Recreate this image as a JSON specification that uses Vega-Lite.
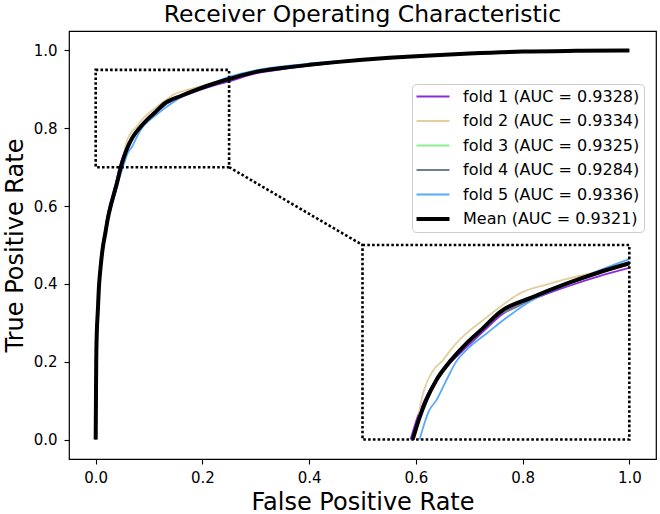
{
  "$schema": "https://vega.github.io/schema/vega-lite/v6.json",
  "width": 587,
  "height": 428,
  "autosize": {"type": "none"},
  "padding": {"left": 69, "top": 31, "right": 4, "bottom": 55},
  "background": "white",
  "title": {"text": "Receiver Operating Characteristic", "font": "DejaVu Sans", "fontSize": 23.5, "fontWeight": "normal", "color": "black", "anchor": "middle", "baseline": "alphabetic", "offset": 10, "dy": 24},
  "config": {
    "view": {"stroke": "black", "strokeWidth": 1.2},
    "axis": {"grid": false, "domain": false, "labelFont": "DejaVu Sans", "labelFontSize": 15, "labelColor": "black", "tickColor": "black", "tickSize": 5, "tickWidth": 1.1, "titleFont": "DejaVu Sans", "titleFontSize": 24, "titleFontWeight": "normal", "titleColor": "black"},
    "legend": {"labelFont": "DejaVu Sans", "labelFontSize": 16, "labelColor": "black", "symbolType": "M-2,0H2", "symbolSize": 272, "symbolOffset": 9, "labelOffset": 22, "padding": 4, "rowPadding": 7.5, "clipHeight": 17, "columns": 1, "strokeColor": "#cccccc", "fillColor": "rgba(255,255,255,0.8)", "cornerRadius": 4, "labelLimit": 400}
  },
  "datasets": {
    "roc": [
      {"series": "fold 1 (AUC = 0.9328)", "fpr": 0, "tpr": 0},
      {"series": "fold 1 (AUC = 0.9328)", "fpr": 0.0005, "tpr": 0.11},
      {"series": "fold 1 (AUC = 0.9328)", "fpr": 0.001, "tpr": 0.21},
      {"series": "fold 1 (AUC = 0.9328)", "fpr": 0.002, "tpr": 0.28},
      {"series": "fold 1 (AUC = 0.9328)", "fpr": 0.004, "tpr": 0.34},
      {"series": "fold 1 (AUC = 0.9328)", "fpr": 0.006, "tpr": 0.40},
      {"series": "fold 1 (AUC = 0.9328)", "fpr": 0.009, "tpr": 0.45},
      {"series": "fold 1 (AUC = 0.9328)", "fpr": 0.013, "tpr": 0.50},
      {"series": "fold 1 (AUC = 0.9328)", "fpr": 0.018, "tpr": 0.54},
      {"series": "fold 1 (AUC = 0.9328)", "fpr": 0.022, "tpr": 0.575},
      {"series": "fold 1 (AUC = 0.9328)", "fpr": 0.027, "tpr": 0.605},
      {"series": "fold 1 (AUC = 0.9328)", "fpr": 0.033, "tpr": 0.635},
      {"series": "fold 1 (AUC = 0.9328)", "fpr": 0.039, "tpr": 0.665},
      {"series": "fold 1 (AUC = 0.9328)", "fpr": 0.045, "tpr": 0.700},
      {"series": "fold 1 (AUC = 0.9328)", "fpr": 0.0515, "tpr": 0.7285},
      {"series": "fold 1 (AUC = 0.9328)", "fpr": 0.058, "tpr": 0.750},
      {"series": "fold 1 (AUC = 0.9328)", "fpr": 0.068, "tpr": 0.775},
      {"series": "fold 1 (AUC = 0.9328)", "fpr": 0.0815, "tpr": 0.7975},
      {"series": "fold 1 (AUC = 0.9328)", "fpr": 0.0985, "tpr": 0.820},
      {"series": "fold 1 (AUC = 0.9328)", "fpr": 0.114, "tpr": 0.840},
      {"series": "fold 1 (AUC = 0.9328)", "fpr": 0.130, "tpr": 0.860},
      {"series": "fold 1 (AUC = 0.9328)", "fpr": 0.1595, "tpr": 0.880},
      {"series": "fold 1 (AUC = 0.9328)", "fpr": 0.1905, "tpr": 0.896},
      {"series": "fold 1 (AUC = 0.9328)", "fpr": 0.222, "tpr": 0.910},
      {"series": "fold 1 (AUC = 0.9328)", "fpr": 0.25, "tpr": 0.9205},
      {"series": "fold 1 (AUC = 0.9328)", "fpr": 0.3, "tpr": 0.941},
      {"series": "fold 1 (AUC = 0.9328)", "fpr": 0.35, "tpr": 0.952},
      {"series": "fold 1 (AUC = 0.9328)", "fpr": 0.4, "tpr": 0.961},
      {"series": "fold 1 (AUC = 0.9328)", "fpr": 0.45, "tpr": 0.969},
      {"series": "fold 1 (AUC = 0.9328)", "fpr": 0.5, "tpr": 0.975},
      {"series": "fold 1 (AUC = 0.9328)", "fpr": 0.55, "tpr": 0.980},
      {"series": "fold 1 (AUC = 0.9328)", "fpr": 0.6, "tpr": 0.985},
      {"series": "fold 1 (AUC = 0.9328)", "fpr": 0.7, "tpr": 0.992},
      {"series": "fold 1 (AUC = 0.9328)", "fpr": 0.8, "tpr": 0.996},
      {"series": "fold 1 (AUC = 0.9328)", "fpr": 0.9, "tpr": 0.999},
      {"series": "fold 1 (AUC = 0.9328)", "fpr": 1.0, "tpr": 1.0},

      {"series": "fold 2 (AUC = 0.9334)", "fpr": 0, "tpr": 0},
      {"series": "fold 2 (AUC = 0.9334)", "fpr": 0.0005, "tpr": 0.1},
      {"series": "fold 2 (AUC = 0.9334)", "fpr": 0.001, "tpr": 0.2},
      {"series": "fold 2 (AUC = 0.9334)", "fpr": 0.002, "tpr": 0.27},
      {"series": "fold 2 (AUC = 0.9334)", "fpr": 0.004, "tpr": 0.33},
      {"series": "fold 2 (AUC = 0.9334)", "fpr": 0.006, "tpr": 0.39},
      {"series": "fold 2 (AUC = 0.9334)", "fpr": 0.009, "tpr": 0.44},
      {"series": "fold 2 (AUC = 0.9334)", "fpr": 0.013, "tpr": 0.49},
      {"series": "fold 2 (AUC = 0.9334)", "fpr": 0.018, "tpr": 0.535},
      {"series": "fold 2 (AUC = 0.9334)", "fpr": 0.023, "tpr": 0.575},
      {"series": "fold 2 (AUC = 0.9334)", "fpr": 0.028, "tpr": 0.605},
      {"series": "fold 2 (AUC = 0.9334)", "fpr": 0.034, "tpr": 0.635},
      {"series": "fold 2 (AUC = 0.9334)", "fpr": 0.041, "tpr": 0.668},
      {"series": "fold 2 (AUC = 0.9334)", "fpr": 0.0475, "tpr": 0.700},
      {"series": "fold 2 (AUC = 0.9334)", "fpr": 0.052, "tpr": 0.720},
      {"series": "fold 2 (AUC = 0.9334)", "fpr": 0.054, "tpr": 0.7425},
      {"series": "fold 2 (AUC = 0.9334)", "fpr": 0.056, "tpr": 0.755},
      {"series": "fold 2 (AUC = 0.9334)", "fpr": 0.058, "tpr": 0.765},
      {"series": "fold 2 (AUC = 0.9334)", "fpr": 0.066, "tpr": 0.7885},
      {"series": "fold 2 (AUC = 0.9334)", "fpr": 0.075, "tpr": 0.8015},
      {"series": "fold 2 (AUC = 0.9334)", "fpr": 0.0845, "tpr": 0.8185},
      {"series": "fold 2 (AUC = 0.9334)", "fpr": 0.097, "tpr": 0.836},
      {"series": "fold 2 (AUC = 0.9334)", "fpr": 0.1125, "tpr": 0.853},
      {"series": "fold 2 (AUC = 0.9334)", "fpr": 0.1285, "tpr": 0.870},
      {"series": "fold 2 (AUC = 0.9334)", "fpr": 0.147, "tpr": 0.8875},
      {"series": "fold 2 (AUC = 0.9334)", "fpr": 0.175, "tpr": 0.900},
      {"series": "fold 2 (AUC = 0.9334)", "fpr": 0.1905, "tpr": 0.906},
      {"series": "fold 2 (AUC = 0.9334)", "fpr": 0.222, "tpr": 0.9165},
      {"series": "fold 2 (AUC = 0.9334)", "fpr": 0.25, "tpr": 0.928},
      {"series": "fold 2 (AUC = 0.9334)", "fpr": 0.3, "tpr": 0.945},
      {"series": "fold 2 (AUC = 0.9334)", "fpr": 0.35, "tpr": 0.955},
      {"series": "fold 2 (AUC = 0.9334)", "fpr": 0.4, "tpr": 0.963},
      {"series": "fold 2 (AUC = 0.9334)", "fpr": 0.45, "tpr": 0.970},
      {"series": "fold 2 (AUC = 0.9334)", "fpr": 0.5, "tpr": 0.976},
      {"series": "fold 2 (AUC = 0.9334)", "fpr": 0.55, "tpr": 0.981},
      {"series": "fold 2 (AUC = 0.9334)", "fpr": 0.6, "tpr": 0.985},
      {"series": "fold 2 (AUC = 0.9334)", "fpr": 0.7, "tpr": 0.992},
      {"series": "fold 2 (AUC = 0.9334)", "fpr": 0.8, "tpr": 0.997},
      {"series": "fold 2 (AUC = 0.9334)", "fpr": 0.9, "tpr": 0.999},
      {"series": "fold 2 (AUC = 0.9334)", "fpr": 1.0, "tpr": 1.0},

      {"series": "fold 3 (AUC = 0.9325)", "fpr": 0, "tpr": 0},
      {"series": "fold 3 (AUC = 0.9325)", "fpr": 0.0005, "tpr": 0.1},
      {"series": "fold 3 (AUC = 0.9325)", "fpr": 0.001, "tpr": 0.2},
      {"series": "fold 3 (AUC = 0.9325)", "fpr": 0.002, "tpr": 0.27},
      {"series": "fold 3 (AUC = 0.9325)", "fpr": 0.004, "tpr": 0.33},
      {"series": "fold 3 (AUC = 0.9325)", "fpr": 0.006, "tpr": 0.39},
      {"series": "fold 3 (AUC = 0.9325)", "fpr": 0.009, "tpr": 0.44},
      {"series": "fold 3 (AUC = 0.9325)", "fpr": 0.013, "tpr": 0.49},
      {"series": "fold 3 (AUC = 0.9325)", "fpr": 0.018, "tpr": 0.53},
      {"series": "fold 3 (AUC = 0.9325)", "fpr": 0.023, "tpr": 0.57},
      {"series": "fold 3 (AUC = 0.9325)", "fpr": 0.028, "tpr": 0.60},
      {"series": "fold 3 (AUC = 0.9325)", "fpr": 0.034, "tpr": 0.63},
      {"series": "fold 3 (AUC = 0.9325)", "fpr": 0.041, "tpr": 0.665},
      {"series": "fold 3 (AUC = 0.9325)", "fpr": 0.048, "tpr": 0.700},
      {"series": "fold 3 (AUC = 0.9325)", "fpr": 0.054, "tpr": 0.729},
      {"series": "fold 3 (AUC = 0.9325)", "fpr": 0.060, "tpr": 0.751},
      {"series": "fold 3 (AUC = 0.9325)", "fpr": 0.0695, "tpr": 0.7775},
      {"series": "fold 3 (AUC = 0.9325)", "fpr": 0.082, "tpr": 0.801},
      {"series": "fold 3 (AUC = 0.9325)", "fpr": 0.0975, "tpr": 0.8245},
      {"series": "fold 3 (AUC = 0.9325)", "fpr": 0.113, "tpr": 0.844},
      {"series": "fold 3 (AUC = 0.9325)", "fpr": 0.1285, "tpr": 0.8645},
      {"series": "fold 3 (AUC = 0.9325)", "fpr": 0.1595, "tpr": 0.884},
      {"series": "fold 3 (AUC = 0.9325)", "fpr": 0.1905, "tpr": 0.9005},
      {"series": "fold 3 (AUC = 0.9325)", "fpr": 0.222, "tpr": 0.915},
      {"series": "fold 3 (AUC = 0.9325)", "fpr": 0.25, "tpr": 0.926},
      {"series": "fold 3 (AUC = 0.9325)", "fpr": 0.3, "tpr": 0.945},
      {"series": "fold 3 (AUC = 0.9325)", "fpr": 0.35, "tpr": 0.955},
      {"series": "fold 3 (AUC = 0.9325)", "fpr": 0.4, "tpr": 0.963},
      {"series": "fold 3 (AUC = 0.9325)", "fpr": 0.45, "tpr": 0.970},
      {"series": "fold 3 (AUC = 0.9325)", "fpr": 0.5, "tpr": 0.976},
      {"series": "fold 3 (AUC = 0.9325)", "fpr": 0.55, "tpr": 0.981},
      {"series": "fold 3 (AUC = 0.9325)", "fpr": 0.6, "tpr": 0.985},
      {"series": "fold 3 (AUC = 0.9325)", "fpr": 0.7, "tpr": 0.992},
      {"series": "fold 3 (AUC = 0.9325)", "fpr": 0.8, "tpr": 0.997},
      {"series": "fold 3 (AUC = 0.9325)", "fpr": 0.9, "tpr": 0.999},
      {"series": "fold 3 (AUC = 0.9325)", "fpr": 1.0, "tpr": 1.0},

      {"series": "fold 4 (AUC = 0.9284)", "fpr": 0, "tpr": 0},
      {"series": "fold 4 (AUC = 0.9284)", "fpr": 0.0005, "tpr": 0.1},
      {"series": "fold 4 (AUC = 0.9284)", "fpr": 0.001, "tpr": 0.2},
      {"series": "fold 4 (AUC = 0.9284)", "fpr": 0.002, "tpr": 0.27},
      {"series": "fold 4 (AUC = 0.9284)", "fpr": 0.004, "tpr": 0.33},
      {"series": "fold 4 (AUC = 0.9284)", "fpr": 0.006, "tpr": 0.39},
      {"series": "fold 4 (AUC = 0.9284)", "fpr": 0.009, "tpr": 0.44},
      {"series": "fold 4 (AUC = 0.9284)", "fpr": 0.013, "tpr": 0.49},
      {"series": "fold 4 (AUC = 0.9284)", "fpr": 0.018, "tpr": 0.53},
      {"series": "fold 4 (AUC = 0.9284)", "fpr": 0.023, "tpr": 0.57},
      {"series": "fold 4 (AUC = 0.9284)", "fpr": 0.028, "tpr": 0.60},
      {"series": "fold 4 (AUC = 0.9284)", "fpr": 0.034, "tpr": 0.63},
      {"series": "fold 4 (AUC = 0.9284)", "fpr": 0.040, "tpr": 0.66},
      {"series": "fold 4 (AUC = 0.9284)", "fpr": 0.047, "tpr": 0.700},
      {"series": "fold 4 (AUC = 0.9284)", "fpr": 0.053, "tpr": 0.7285},
      {"series": "fold 4 (AUC = 0.9284)", "fpr": 0.059, "tpr": 0.750},
      {"series": "fold 4 (AUC = 0.9284)", "fpr": 0.0685, "tpr": 0.776},
      {"series": "fold 4 (AUC = 0.9284)", "fpr": 0.081, "tpr": 0.800},
      {"series": "fold 4 (AUC = 0.9284)", "fpr": 0.0965, "tpr": 0.8235},
      {"series": "fold 4 (AUC = 0.9284)", "fpr": 0.112, "tpr": 0.8435},
      {"series": "fold 4 (AUC = 0.9284)", "fpr": 0.1285, "tpr": 0.861},
      {"series": "fold 4 (AUC = 0.9284)", "fpr": 0.14, "tpr": 0.8675},
      {"series": "fold 4 (AUC = 0.9284)", "fpr": 0.1595, "tpr": 0.8815},
      {"series": "fold 4 (AUC = 0.9284)", "fpr": 0.1905, "tpr": 0.899},
      {"series": "fold 4 (AUC = 0.9284)", "fpr": 0.222, "tpr": 0.914},
      {"series": "fold 4 (AUC = 0.9284)", "fpr": 0.25, "tpr": 0.925},
      {"series": "fold 4 (AUC = 0.9284)", "fpr": 0.3, "tpr": 0.944},
      {"series": "fold 4 (AUC = 0.9284)", "fpr": 0.35, "tpr": 0.954},
      {"series": "fold 4 (AUC = 0.9284)", "fpr": 0.4, "tpr": 0.962},
      {"series": "fold 4 (AUC = 0.9284)", "fpr": 0.45, "tpr": 0.969},
      {"series": "fold 4 (AUC = 0.9284)", "fpr": 0.5, "tpr": 0.975},
      {"series": "fold 4 (AUC = 0.9284)", "fpr": 0.55, "tpr": 0.980},
      {"series": "fold 4 (AUC = 0.9284)", "fpr": 0.6, "tpr": 0.984},
      {"series": "fold 4 (AUC = 0.9284)", "fpr": 0.7, "tpr": 0.991},
      {"series": "fold 4 (AUC = 0.9284)", "fpr": 0.8, "tpr": 0.996},
      {"series": "fold 4 (AUC = 0.9284)", "fpr": 0.9, "tpr": 0.999},
      {"series": "fold 4 (AUC = 0.9284)", "fpr": 1.0, "tpr": 1.0},

      {"series": "fold 5 (AUC = 0.9336)", "fpr": 0, "tpr": 0},
      {"series": "fold 5 (AUC = 0.9336)", "fpr": 0.0006, "tpr": 0.1},
      {"series": "fold 5 (AUC = 0.9336)", "fpr": 0.0012, "tpr": 0.2},
      {"series": "fold 5 (AUC = 0.9336)", "fpr": 0.0025, "tpr": 0.27},
      {"series": "fold 5 (AUC = 0.9336)", "fpr": 0.0045, "tpr": 0.33},
      {"series": "fold 5 (AUC = 0.9336)", "fpr": 0.0065, "tpr": 0.39},
      {"series": "fold 5 (AUC = 0.9336)", "fpr": 0.0095, "tpr": 0.44},
      {"series": "fold 5 (AUC = 0.9336)", "fpr": 0.014, "tpr": 0.49},
      {"series": "fold 5 (AUC = 0.9336)", "fpr": 0.019, "tpr": 0.53},
      {"series": "fold 5 (AUC = 0.9336)", "fpr": 0.024, "tpr": 0.57},
      {"series": "fold 5 (AUC = 0.9336)", "fpr": 0.030, "tpr": 0.60},
      {"series": "fold 5 (AUC = 0.9336)", "fpr": 0.036, "tpr": 0.63},
      {"series": "fold 5 (AUC = 0.9336)", "fpr": 0.043, "tpr": 0.665},
      {"series": "fold 5 (AUC = 0.9336)", "fpr": 0.051, "tpr": 0.700},
      {"series": "fold 5 (AUC = 0.9336)", "fpr": 0.0605, "tpr": 0.7375},
      {"series": "fold 5 (AUC = 0.9336)", "fpr": 0.067, "tpr": 0.750},
      {"series": "fold 5 (AUC = 0.9336)", "fpr": 0.0765, "tpr": 0.776},
      {"series": "fold 5 (AUC = 0.9336)", "fpr": 0.086, "tpr": 0.7995},
      {"series": "fold 5 (AUC = 0.9336)", "fpr": 0.099, "tpr": 0.8185},
      {"series": "fold 5 (AUC = 0.9336)", "fpr": 0.115, "tpr": 0.836},
      {"series": "fold 5 (AUC = 0.9336)", "fpr": 0.131, "tpr": 0.853},
      {"series": "fold 5 (AUC = 0.9336)", "fpr": 0.16, "tpr": 0.880},
      {"series": "fold 5 (AUC = 0.9336)", "fpr": 0.1905, "tpr": 0.899},
      {"series": "fold 5 (AUC = 0.9336)", "fpr": 0.222, "tpr": 0.9175},
      {"series": "fold 5 (AUC = 0.9336)", "fpr": 0.25, "tpr": 0.932},
      {"series": "fold 5 (AUC = 0.9336)", "fpr": 0.3, "tpr": 0.949},
      {"series": "fold 5 (AUC = 0.9336)", "fpr": 0.35, "tpr": 0.959},
      {"series": "fold 5 (AUC = 0.9336)", "fpr": 0.4, "tpr": 0.966},
      {"series": "fold 5 (AUC = 0.9336)", "fpr": 0.45, "tpr": 0.972},
      {"series": "fold 5 (AUC = 0.9336)", "fpr": 0.5, "tpr": 0.977},
      {"series": "fold 5 (AUC = 0.9336)", "fpr": 0.55, "tpr": 0.981},
      {"series": "fold 5 (AUC = 0.9336)", "fpr": 0.6, "tpr": 0.985},
      {"series": "fold 5 (AUC = 0.9336)", "fpr": 0.7, "tpr": 0.992},
      {"series": "fold 5 (AUC = 0.9336)", "fpr": 0.8, "tpr": 0.997},
      {"series": "fold 5 (AUC = 0.9336)", "fpr": 0.9, "tpr": 0.999},
      {"series": "fold 5 (AUC = 0.9336)", "fpr": 1.0, "tpr": 1.0},

      {"series": "Mean (AUC = 0.9321)", "fpr": 0, "tpr": 0},
      {"series": "Mean (AUC = 0.9321)", "fpr": 0.0005, "tpr": 0.1},
      {"series": "Mean (AUC = 0.9321)", "fpr": 0.001, "tpr": 0.2},
      {"series": "Mean (AUC = 0.9321)", "fpr": 0.002, "tpr": 0.27},
      {"series": "Mean (AUC = 0.9321)", "fpr": 0.004, "tpr": 0.33},
      {"series": "Mean (AUC = 0.9321)", "fpr": 0.006, "tpr": 0.39},
      {"series": "Mean (AUC = 0.9321)", "fpr": 0.009, "tpr": 0.44},
      {"series": "Mean (AUC = 0.9321)", "fpr": 0.013, "tpr": 0.49},
      {"series": "Mean (AUC = 0.9321)", "fpr": 0.018, "tpr": 0.53},
      {"series": "Mean (AUC = 0.9321)", "fpr": 0.023, "tpr": 0.57},
      {"series": "Mean (AUC = 0.9321)", "fpr": 0.028, "tpr": 0.60},
      {"series": "Mean (AUC = 0.9321)", "fpr": 0.034, "tpr": 0.63},
      {"series": "Mean (AUC = 0.9321)", "fpr": 0.040, "tpr": 0.66},
      {"series": "Mean (AUC = 0.9321)", "fpr": 0.047, "tpr": 0.700},
      {"series": "Mean (AUC = 0.9321)", "fpr": 0.0535, "tpr": 0.7285},
      {"series": "Mean (AUC = 0.9321)", "fpr": 0.0595, "tpr": 0.750},
      {"series": "Mean (AUC = 0.9321)", "fpr": 0.069, "tpr": 0.776},
      {"series": "Mean (AUC = 0.9321)", "fpr": 0.0815, "tpr": 0.7995},
      {"series": "Mean (AUC = 0.9321)", "fpr": 0.097, "tpr": 0.823},
      {"series": "Mean (AUC = 0.9321)", "fpr": 0.1125, "tpr": 0.8425},
      {"series": "Mean (AUC = 0.9321)", "fpr": 0.1285, "tpr": 0.8635},
      {"series": "Mean (AUC = 0.9321)", "fpr": 0.1595, "tpr": 0.883},
      {"series": "Mean (AUC = 0.9321)", "fpr": 0.1905, "tpr": 0.900},
      {"series": "Mean (AUC = 0.9321)", "fpr": 0.222, "tpr": 0.915},
      {"series": "Mean (AUC = 0.9321)", "fpr": 0.25, "tpr": 0.9265},
      {"series": "Mean (AUC = 0.9321)", "fpr": 0.3, "tpr": 0.945},
      {"series": "Mean (AUC = 0.9321)", "fpr": 0.35, "tpr": 0.955},
      {"series": "Mean (AUC = 0.9321)", "fpr": 0.4, "tpr": 0.963},
      {"series": "Mean (AUC = 0.9321)", "fpr": 0.45, "tpr": 0.970},
      {"series": "Mean (AUC = 0.9321)", "fpr": 0.5, "tpr": 0.976},
      {"series": "Mean (AUC = 0.9321)", "fpr": 0.55, "tpr": 0.981},
      {"series": "Mean (AUC = 0.9321)", "fpr": 0.6, "tpr": 0.985},
      {"series": "Mean (AUC = 0.9321)", "fpr": 0.7, "tpr": 0.992},
      {"series": "Mean (AUC = 0.9321)", "fpr": 0.8, "tpr": 0.997},
      {"series": "Mean (AUC = 0.9321)", "fpr": 0.9, "tpr": 0.999},
      {"series": "Mean (AUC = 0.9321)", "fpr": 1.0, "tpr": 1.0}
    ],
    "inset": [
      {"series": "fold 1 (AUC = 0.9328)", "fpr": 0.590, "tpr": 0},
      {"series": "fold 1 (AUC = 0.9328)", "fpr": 0.603, "tpr": 0.057},
      {"series": "fold 1 (AUC = 0.9328)", "fpr": 0.616, "tpr": 0.100},
      {"series": "fold 1 (AUC = 0.9328)", "fpr": 0.636, "tpr": 0.150},
      {"series": "fold 1 (AUC = 0.9328)", "fpr": 0.663, "tpr": 0.195},
      {"series": "fold 1 (AUC = 0.9328)", "fpr": 0.697, "tpr": 0.240},
      {"series": "fold 1 (AUC = 0.9328)", "fpr": 0.728, "tpr": 0.280},
      {"series": "fold 1 (AUC = 0.9328)", "fpr": 0.760, "tpr": 0.320},
      {"series": "fold 1 (AUC = 0.9328)", "fpr": 0.819, "tpr": 0.360},
      {"series": "fold 1 (AUC = 0.9328)", "fpr": 0.881, "tpr": 0.392},
      {"series": "fold 1 (AUC = 0.9328)", "fpr": 0.944, "tpr": 0.420},
      {"series": "fold 1 (AUC = 0.9328)", "fpr": 1.0, "tpr": 0.441},

      {"series": "fold 2 (AUC = 0.9334)", "fpr": 0.595, "tpr": 0},
      {"series": "fold 2 (AUC = 0.9334)", "fpr": 0.604, "tpr": 0.040},
      {"series": "fold 2 (AUC = 0.9334)", "fpr": 0.608, "tpr": 0.085},
      {"series": "fold 2 (AUC = 0.9334)", "fpr": 0.612, "tpr": 0.110},
      {"series": "fold 2 (AUC = 0.9334)", "fpr": 0.616, "tpr": 0.130},
      {"series": "fold 2 (AUC = 0.9334)", "fpr": 0.632, "tpr": 0.177},
      {"series": "fold 2 (AUC = 0.9334)", "fpr": 0.650, "tpr": 0.203},
      {"series": "fold 2 (AUC = 0.9334)", "fpr": 0.669, "tpr": 0.237},
      {"series": "fold 2 (AUC = 0.9334)", "fpr": 0.694, "tpr": 0.272},
      {"series": "fold 2 (AUC = 0.9334)", "fpr": 0.725, "tpr": 0.306},
      {"series": "fold 2 (AUC = 0.9334)", "fpr": 0.757, "tpr": 0.340},
      {"series": "fold 2 (AUC = 0.9334)", "fpr": 0.794, "tpr": 0.375},
      {"series": "fold 2 (AUC = 0.9334)", "fpr": 0.850, "tpr": 0.400},
      {"series": "fold 2 (AUC = 0.9334)", "fpr": 0.881, "tpr": 0.412},
      {"series": "fold 2 (AUC = 0.9334)", "fpr": 0.944, "tpr": 0.433},
      {"series": "fold 2 (AUC = 0.9334)", "fpr": 1.0, "tpr": 0.456},

      {"series": "fold 3 (AUC = 0.9325)", "fpr": 0.596, "tpr": 0},
      {"series": "fold 3 (AUC = 0.9325)", "fpr": 0.608, "tpr": 0.058},
      {"series": "fold 3 (AUC = 0.9325)", "fpr": 0.620, "tpr": 0.102},
      {"series": "fold 3 (AUC = 0.9325)", "fpr": 0.639, "tpr": 0.155},
      {"series": "fold 3 (AUC = 0.9325)", "fpr": 0.664, "tpr": 0.202},
      {"series": "fold 3 (AUC = 0.9325)", "fpr": 0.695, "tpr": 0.249},
      {"series": "fold 3 (AUC = 0.9325)", "fpr": 0.726, "tpr": 0.288},
      {"series": "fold 3 (AUC = 0.9325)", "fpr": 0.757, "tpr": 0.329},
      {"series": "fold 3 (AUC = 0.9325)", "fpr": 0.819, "tpr": 0.368},
      {"series": "fold 3 (AUC = 0.9325)", "fpr": 0.881, "tpr": 0.401},
      {"series": "fold 3 (AUC = 0.9325)", "fpr": 0.944, "tpr": 0.430},
      {"series": "fold 3 (AUC = 0.9325)", "fpr": 1.0, "tpr": 0.452},

      {"series": "fold 4 (AUC = 0.9284)", "fpr": 0.594, "tpr": 0},
      {"series": "fold 4 (AUC = 0.9284)", "fpr": 0.606, "tpr": 0.057},
      {"series": "fold 4 (AUC = 0.9284)", "fpr": 0.618, "tpr": 0.100},
      {"series": "fold 4 (AUC = 0.9284)", "fpr": 0.637, "tpr": 0.152},
      {"series": "fold 4 (AUC = 0.9284)", "fpr": 0.662, "tpr": 0.200},
      {"series": "fold 4 (AUC = 0.9284)", "fpr": 0.693, "tpr": 0.247},
      {"series": "fold 4 (AUC = 0.9284)", "fpr": 0.724, "tpr": 0.287},
      {"series": "fold 4 (AUC = 0.9284)", "fpr": 0.757, "tpr": 0.322},
      {"series": "fold 4 (AUC = 0.9284)", "fpr": 0.780, "tpr": 0.335},
      {"series": "fold 4 (AUC = 0.9284)", "fpr": 0.819, "tpr": 0.363},
      {"series": "fold 4 (AUC = 0.9284)", "fpr": 0.881, "tpr": 0.398},
      {"series": "fold 4 (AUC = 0.9284)", "fpr": 0.944, "tpr": 0.428},
      {"series": "fold 4 (AUC = 0.9284)", "fpr": 1.0, "tpr": 0.450},

      {"series": "fold 5 (AUC = 0.9336)", "fpr": 0.607, "tpr": 0},
      {"series": "fold 5 (AUC = 0.9336)", "fpr": 0.625, "tpr": 0.075},
      {"series": "fold 5 (AUC = 0.9336)", "fpr": 0.638, "tpr": 0.100},
      {"series": "fold 5 (AUC = 0.9336)", "fpr": 0.657, "tpr": 0.152},
      {"series": "fold 5 (AUC = 0.9336)", "fpr": 0.675, "tpr": 0.199},
      {"series": "fold 5 (AUC = 0.9336)", "fpr": 0.700, "tpr": 0.237},
      {"series": "fold 5 (AUC = 0.9336)", "fpr": 0.732, "tpr": 0.272},
      {"series": "fold 5 (AUC = 0.9336)", "fpr": 0.763, "tpr": 0.306},
      {"series": "fold 5 (AUC = 0.9336)", "fpr": 0.820, "tpr": 0.360},
      {"series": "fold 5 (AUC = 0.9336)", "fpr": 0.881, "tpr": 0.398},
      {"series": "fold 5 (AUC = 0.9336)", "fpr": 0.944, "tpr": 0.435},
      {"series": "fold 5 (AUC = 0.9336)", "fpr": 1.0, "tpr": 0.464},

      {"series": "Mean (AUC = 0.9321)", "fpr": 0.594, "tpr": 0},
      {"series": "Mean (AUC = 0.9321)", "fpr": 0.607, "tpr": 0.057},
      {"series": "Mean (AUC = 0.9321)", "fpr": 0.619, "tpr": 0.100},
      {"series": "Mean (AUC = 0.9321)", "fpr": 0.638, "tpr": 0.152},
      {"series": "Mean (AUC = 0.9321)", "fpr": 0.663, "tpr": 0.199},
      {"series": "Mean (AUC = 0.9321)", "fpr": 0.694, "tpr": 0.246},
      {"series": "Mean (AUC = 0.9321)", "fpr": 0.725, "tpr": 0.285},
      {"series": "Mean (AUC = 0.9321)", "fpr": 0.757, "tpr": 0.327},
      {"series": "Mean (AUC = 0.9321)", "fpr": 0.819, "tpr": 0.366},
      {"series": "Mean (AUC = 0.9321)", "fpr": 0.881, "tpr": 0.400},
      {"series": "Mean (AUC = 0.9321)", "fpr": 0.944, "tpr": 0.430},
      {"series": "Mean (AUC = 0.9321)", "fpr": 1.0, "tpr": 0.453}
    ],
    "boxes": [
      {"x": 0, "x2": 0.25, "y": 0.7, "y2": 0.95},
      {"x": 0.5, "x2": 1.0, "y": 0, "y2": 0.5}
    ],
    "link": [
      {"x": 0.25, "y": 0.7, "x2": 0.5, "y2": 0.5}
    ]
  },
  "encoding": {
    "x": {"field": "fpr", "type": "quantitative", "scale": {"domain": [-0.05, 1.05], "nice": false, "zero": false},
      "axis": {"values": [0, 0.2, 0.4, 0.6, 0.8, 1.0], "format": ".1f", "title": "False Positive Rate", "labelPadding": 6, "titleY": 50, "titleBaseline": "alphabetic"}},
    "y": {"field": "tpr", "type": "quantitative", "scale": {"domain": [-0.05, 1.05], "nice": false, "zero": false},
      "axis": {"values": [0, 0.2, 0.4, 0.6, 0.8, 1.0], "format": ".1f", "title": "True Positive Rate", "labelPadding": 7, "titleX": -47, "titleY": 214, "titleAngle": -90, "titleAlign": "center", "titleBaseline": "alphabetic"}},
    "color": {"field": "series", "type": "nominal",
      "scale": {"domain": ["fold 1 (AUC = 0.9328)", "fold 2 (AUC = 0.9334)", "fold 3 (AUC = 0.9325)", "fold 4 (AUC = 0.9284)", "fold 5 (AUC = 0.9336)", "Mean (AUC = 0.9321)"],
                "range": ["#8a2be2", "#e3cf9e", "#90ee90", "#708090", "#55aaff", "#000000"]},
      "legend": {"title": null, "orient": "none", "legendX": 343, "legendY": 53,
        "encode": {"symbols": {"update": {"strokeWidth": {"signal": "datum.value === 'Mean (AUC = 0.9321)' ? 4 : 1.8"}}}}}}
  },
  "layer": [
    {
      "data": {"name": "roc"},
      "transform": [{"filter": "datum.series !== 'Mean (AUC = 0.9321)'"}],
      "mark": {"type": "line", "interpolate": "monotone", "strokeWidth": 1.8}
    },
    {
      "data": {"name": "roc"},
      "transform": [{"filter": "datum.series === 'Mean (AUC = 0.9321)'"}],
      "mark": {"type": "line", "interpolate": "monotone", "strokeWidth": 4}
    },
    {
      "data": {"name": "inset"},
      "transform": [{"filter": "datum.series !== 'Mean (AUC = 0.9321)'"}],
      "mark": {"type": "line", "interpolate": "monotone", "strokeWidth": 1.8}
    },
    {
      "data": {"name": "inset"},
      "transform": [{"filter": "datum.series === 'Mean (AUC = 0.9321)'"}],
      "mark": {"type": "line", "interpolate": "monotone", "strokeWidth": 4}
    },
    {
      "data": {"name": "boxes"},
      "mark": {"type": "rect", "fillOpacity": 0, "stroke": "black", "strokeWidth": 2.6, "strokeDash": [2.6, 2.2]},
      "encoding": {
        "x": {"field": "x", "type": "quantitative"},
        "x2": {"field": "x2"},
        "y": {"field": "y", "type": "quantitative"},
        "y2": {"field": "y2"},
        "color": {"value": "black"}
      }
    },
    {
      "data": {"name": "link"},
      "mark": {"type": "rule", "stroke": "black", "strokeWidth": 2.6, "strokeDash": [2.6, 2.2]},
      "encoding": {
        "x": {"field": "x", "type": "quantitative"},
        "x2": {"field": "x2"},
        "y": {"field": "y", "type": "quantitative"},
        "y2": {"field": "y2"},
        "color": {"value": "black"}
      }
    }
  ]
}
